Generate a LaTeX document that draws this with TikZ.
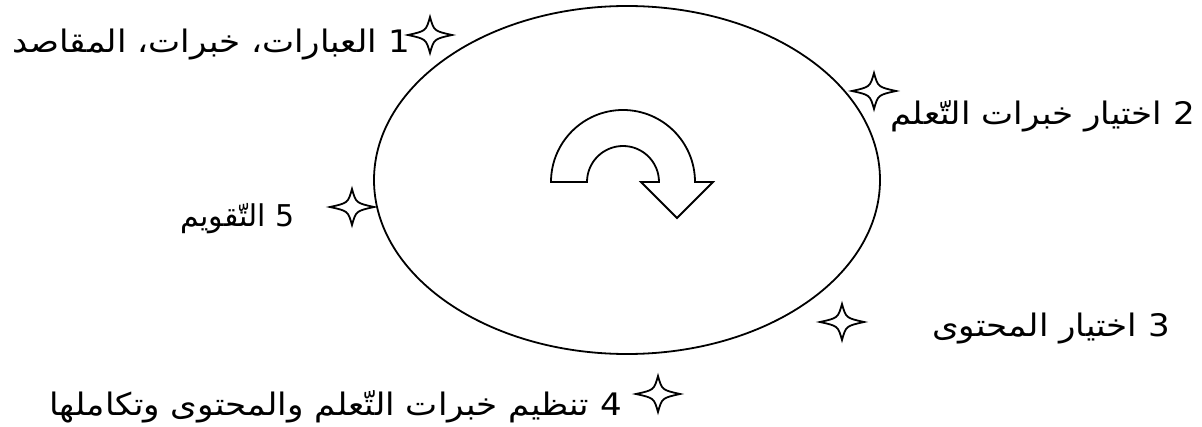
\documentclass[tikz,border=0pt]{standalone}
\usepackage{fontspec}
\newfontfamily\arabicfont[Script=Arabic, FakeStretch=1.1]{DejaVu Sans}
\newfontfamily\arabicplain[Script=Arabic]{DejaVu Sans}
\TeXXeTstate=1

\begin{document}
\begin{tikzpicture}[x=1pt, y=1pt,
  lbl/.style={anchor=base east, inner sep=0pt, font=\fontsize{31}{37}\selectfont\arabicfont},
  sparkle/.pic={\draw[line width=1.8pt, fill=white] (0,18) .. controls (4,4) .. (22,0)
      .. controls (4,-4) .. (0,-18) .. controls (-4,-4) .. (-22,0)
      .. controls (-4,4) .. (0,18) -- cycle;}]
  \useasboundingbox (0,0) rectangle (1202,426);

  % the cycle
  \draw[line width=1.8pt] (627,246) ellipse (253 and 174);

  % turning arrow in the middle
  \draw[line width=1.8pt, fill=white] (551,244) arc[start angle=180, end angle=0, radius=72]
    -- (713,244) -- (677,208) -- (641,244) -- (659,244)
    arc[start angle=0, end angle=180, radius=36] -- cycle;

  % stars round the cycle
  \pic (s1) at (430,391) {sparkle};
  \pic (s2) at (874,335) {sparkle};
  \pic (s3) at (842,104) {sparkle};
  \pic (s4) at (658,32) {sparkle};
  \pic (s5) at (352,219) {sparkle};

  % the steps
  \node[lbl] (t1) at (410,373) {\beginR 1 العبارات، خبرات، المقاصد\endR};
  \node[lbl] (t2) at (1195,301) {\beginR 2 اختيار خبرات التّعلم\endR};
  \node[lbl] (t3) at (1170,90) {\beginR 3 اختيار المحتوى\endR};
  \node[lbl] (t4) at (622,11) {\beginR 4 تنظيم خبرات التّعلم والمحتوى وتكاملها\endR};
  \node[lbl, font=\fontsize{30}{36}\selectfont\arabicplain] (t5) at (295,199) {\beginR 5 التّقويم\endR};
\end{tikzpicture}
\end{document}
